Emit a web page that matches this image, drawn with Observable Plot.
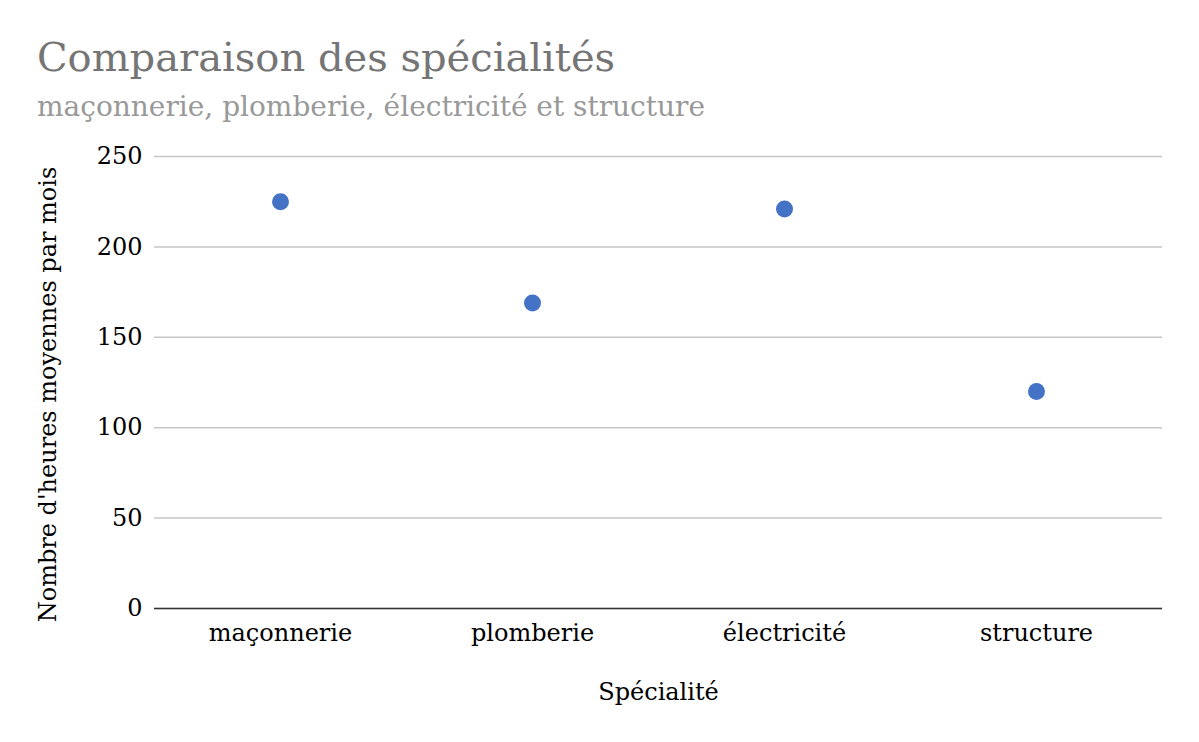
<!DOCTYPE html>
<html>
<head>
<meta charset="utf-8">
<script src="https://cdn.jsdelivr.net/npm/d3@7"></script>
<script src="https://cdn.jsdelivr.net/npm/@observablehq/plot@0.6"></script>
<style>
  body { margin: 0; background: #fff; font-family: "DejaVu Serif", serif; }
  #title { position: absolute; left: 37px; top: 33px; font-size: 40px; color: #757575; line-height: 48px; white-space: nowrap; }
  #subtitle { position: absolute; left: 37px; top: 90px; font-size: 28px; color: #999999; line-height: 34px; white-space: nowrap; }
  #chart { position: absolute; left: 0; top: 130px; }
</style>
</head>
<body>
<div id="title">Comparaison des spécialités</div>
<div id="subtitle">maçonnerie, plomberie, électricité et structure</div>
<div id="chart"></div>
<script>
const categories = ["maçonnerie", "plomberie", "électricité", "structure"];
const hours = [225, 169, 221, 120];
const yTicks = [0, 50, 100, 150, 200, 250];
const xLabel = "Spécialité";
const yLabel = "Nombre d'heures moyennes par mois";

const data = categories.map((c, i) => ({ cat: c, value: hours[i] }));

const chart = Plot.plot({
  width: 1199,
  height: 600,
  marginLeft: 154,
  marginRight: 37,
  marginTop: 26,
  marginBottom: 122,
  style: { fontFamily: "DejaVu Serif, serif", fontSize: "24px", color: "#000", background: "#fff" },
  x: { type: "point", domain: categories, padding: 0.5, label: null },
  y: { domain: [0, 250], label: null },
  marks: [
    Plot.gridY(yTicks, { stroke: "#c6c6c6", strokeOpacity: 1, strokeWidth: 1.5 }),
    Plot.ruleY([0], { stroke: "#333", strokeWidth: 1.5 }),
    Plot.axisY(yTicks, { tickSize: 0, tickPadding: 12, fontSize: 24, label: null }),
    Plot.axisX({ tickSize: 0, tickPadding: 15, fontSize: 24, label: null }),
    Plot.text([xLabel], { frameAnchor: "bottom", dy: 91, fontSize: 24, fill: "#000" }),
    Plot.text([yLabel], { frameAnchor: "left", textAnchor: "middle", rotate: -90, dx: -106, dy: 12, fontSize: 24, fill: "#000" }),
    Plot.dot(data, { x: "cat", y: "value", r: 8.5, fill: "#4472c4", stroke: null })
  ]
});
document.getElementById("chart").appendChild(chart);
</script>
</body>
</html>
